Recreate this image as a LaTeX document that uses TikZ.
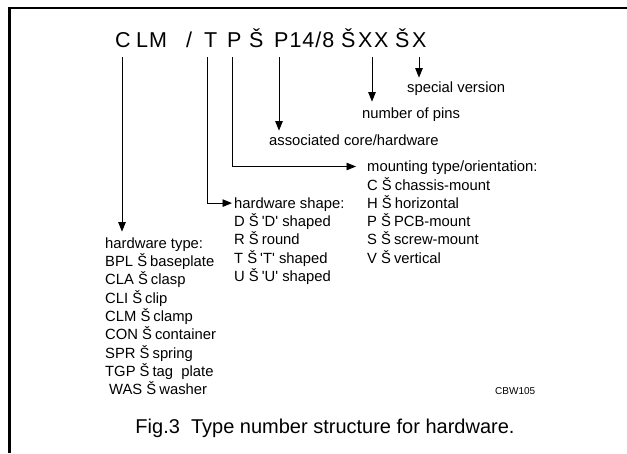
\documentclass[tikz,border=0pt]{standalone}
\usepackage{fontspec}
\setmainfont{Liberation Sans}
\usetikzlibrary{arrows.meta}
\newcommand{\sepS}{Š\hspace{3pt}}
\begin{document}
\begin{tikzpicture}[x=1pt,y=-1pt,
  code/.style={anchor=base west,inner sep=0pt,font=\fontsize{21.5}{26}\selectfont},
  item/.style={anchor=west,inner sep=0pt,text height=10.4pt,text depth=0pt,font=\fontsize{14.8}{17}\selectfont},
  arr/.style={line width=0.9pt,-{Triangle[length=9.5pt,width=7.5pt]}},
  frameline/.style={line width=2.6pt,line join=miter}]
\useasboundingbox (0,0) rectangle (627,453);
\draw[frameline] (9.5,453) coordinate (fb) -- (9.5,8) coordinate (fc) -- (627,8) coordinate (fr);
% code
\node[code] (kC) at (115,47.5) {C};
\node[code] (kLM) at (136,47.5) {L\kern1pt M};
\node[code] (kSl) at (186,47.5) {/};
\node[code] (kT) at (204,47.5) {T};
\node[code] (kP) at (227,47.5) {P};
\node[code] (kS1) at (249,47.5) {Š};
\node[code] (kP14) at (274,47.5) {P\kern1pt 1\kern1pt 4\kern1pt /\kern1pt 8};
\node[code] (kS2) at (341,47.5) {Š};
\node[code] (kXX) at (358,47.5) {X\kern1.5pt X};
\node[code] (kS3) at (395,47.5) {Š};
\node[code] (kX) at (412,47.5) {X};
% start points
\coordinate (sC) at (122,57);
\coordinate (sT) at (207,57);
\coordinate (sP) at (232,57);
\coordinate (sQ) at (279,57);
\coordinate (sXX) at (372,57);
\coordinate (sX) at (419,57);
% single labels
\node[item] (lsv) at (407,87) {special version};
\node[item] (lnp) at (362,113) {number of pins};
\node[item] (lac) at (269,140) {associated core/hardware};
% mounting list
\foreach \t [count=\k from 0] in {mounting type/orientation:,C \sepS chassis-mount,H \sepS horizontal,P \sepS PCB-mount,S \sepS screw-mount,V \sepS vertical}
  \node[item] (mt\k) at (367,166.5+18.3*\k) {\t};
% hardware shape list
\foreach \t [count=\k from 0] in {hardware shape:,D \sepS \textquotesingle D\textquotesingle{} shaped,R \sepS round,T \sepS \textquotesingle T\textquotesingle{} shaped,U \sepS \textquotesingle U\textquotesingle{} shaped}
  \node[item] (hs\k) at (234,203.1+18.3*\k) {\t};
% hardware type list
\foreach \t [count=\k from 0] in {hardware type:,BPL \sepS baseplate,CLA \sepS clasp,CLI \sepS clip,CLM \sepS clamp,CON \sepS container,SPR \sepS spring,TGP \sepS tag~~plate}
  \node[item] (ht\k) at (105,243+18.3*\k) {\t};
\node[item] (ht8) at (109,243+18.3*8) {WAS \sepS washer};
% connectors
\draw[arr,shorten >=6pt] (sC) -- (sC |- ht0.north);
\draw[arr,shorten >=2pt] (sT) |- (hs0.west);
\draw[arr,shorten >=11pt] (sP) |- (mt0.west);
\draw[arr,shorten >=4pt] (sQ) -- (sQ |- lac.north);
\draw[arr,shorten >=6pt] (sXX) -- (sXX |- lnp.north);
\draw[arr,shorten >=4pt] (sX) -- (sX |- lsv.north);
% caption
\node[anchor=base,inner sep=0pt,font=\fontsize{20}{24}\selectfont] (cap) at (325,433) {Fig.3\ \ Type number structure for hardware.};
\node[anchor=base west,inner sep=0pt,font=\fontsize{10}{12}\selectfont] (cbw) at (495,394) {CBW105};
\end{tikzpicture}
\end{document}
